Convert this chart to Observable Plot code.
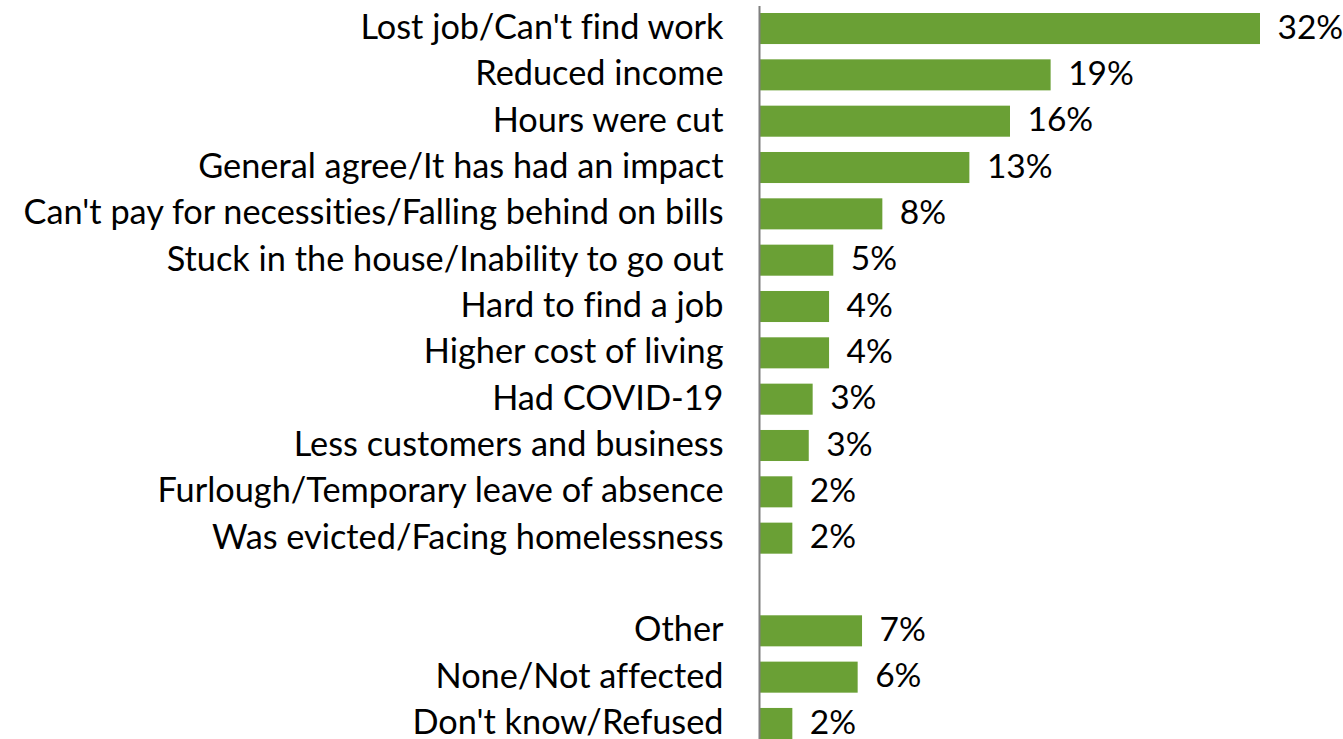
<!DOCTYPE html>
<html><head><meta charset="utf-8">
<script src="https://cdn.jsdelivr.net/npm/d3@7"></script>
<script src="https://cdn.jsdelivr.net/npm/@observablehq/plot@0.6"></script>
<style>
html,body{margin:0;padding:0;background:#fff;overflow:hidden}
svg text{font-variant-ligatures:none;font-feature-settings:"liga" 0,"clig" 0,"dlig" 0}
</style>
</head><body><div id="chart"></div>
<script>
const mainCategories = [
  "Lost job/Can't find work",
  "Reduced income",
  "Hours were cut",
  "General agree/It has had an impact",
  "Can't pay for necessities/Falling behind on bills",
  "Stuck in the house/Inability to go out",
  "Hard to find a job",
  "Higher cost of living",
  "Had COVID-19",
  "Less customers and business",
  "Furlough/Temporary leave of absence",
  "Was evicted/Facing homelessness"
];
const mainValues = [32.0, 18.6, 16.0, 13.4, 7.83, 4.69, 4.42, 4.42, 3.37, 3.12, 2.07, 2.07];
const mainLabels = ["32%", "19%", "16%", "13%", "8%", "5%", "4%", "4%", "3%", "3%", "2%", "2%"];

const otherCategories = ["Other", "None/Not affected", "Don't know/Refused"];
const otherValues = [6.53, 6.25, 2.07];
const otherLabels = ["7%", "6%", "2%"];

const spacer = " ";

const data = [
  ...mainCategories.map((c, i) => ({category: c, value: mainValues[i], label: mainLabels[i]})),
  ...otherCategories.map((c, i) => ({category: c, value: otherValues[i], label: otherLabels[i]}))
];
const yDomain = [...mainCategories, spacer, ...otherCategories];

const FONT = "Lato";
const FS_CAT = 34.3;
const FS_VAL = 33.5;

const chart = Plot.plot({
  width: 1343,
  height: 739,
  marginLeft: 760,
  marginRight: 83,
  marginTop: 13,
  marginBottom: 0,
  x: {domain: [0, 32], axis: null},
  y: {domain: yDomain, axis: null, paddingInner: 0.33, paddingOuter: 0, round: false},
  style: {fontFamily: FONT, fontSize: FS_CAT + "px", color: "#000", background: "#fff", overflow: "visible"},
  marks: [
    Plot.barX(data, {x: "value", y: "category", fill: "#6aa035"}),
    Plot.ruleX([0], {stroke: "#7f7f7f", strokeWidth: 2, dx: -1, insetTop: -7}),
    Plot.text(data, {x: 0, y: "category", text: "category", textAnchor: "end", dx: -37, dy: -1, fontSize: FS_CAT, fill: "#000"}),
    Plot.text(data, {x: "value", y: "category", text: "label", textAnchor: "start", dx: 17, dy: -1, fontSize: FS_VAL, fill: "#000"})
  ]
});
document.getElementById("chart").appendChild(chart);
</script>
</body></html>
